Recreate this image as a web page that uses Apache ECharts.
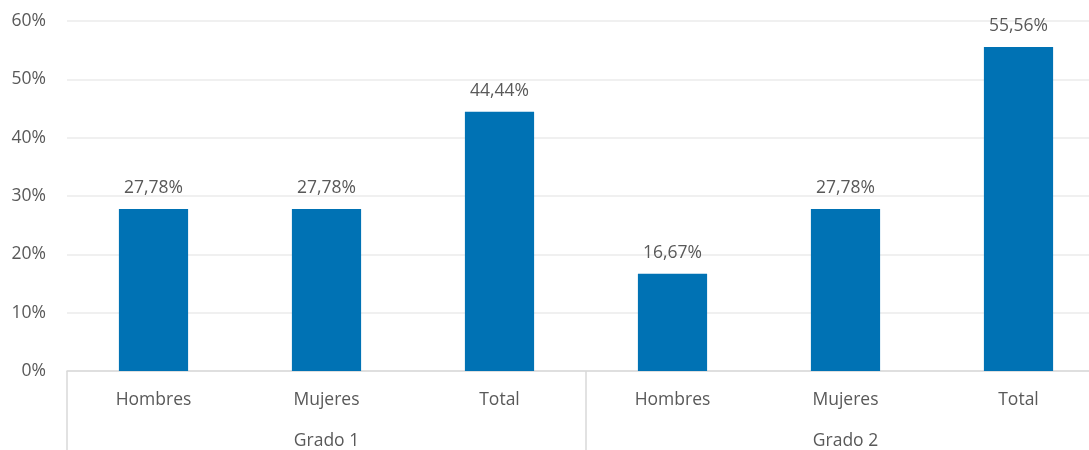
<!DOCTYPE html>
<html><head><meta charset="utf-8">
<script src="https://cdn.jsdelivr.net/npm/echarts@6/dist/echarts.min.js"></script>
<style>html,body{margin:0;padding:0;background:#fff;overflow:hidden}#c{width:1105px;height:450px}</style>
</head><body><div id="c"></div>
<script>
const categories = ['Hombres','Mujeres','Total','Hombres','Mujeres','Total'];
const groups = ['Grado 1','Grado 2'];
const values = [27.78, 27.78, 44.44, 16.67, 27.78, 55.56];
const yTicks = [0, 10, 20, 30, 40, 50, 60];

const font = 'Open Sans, Noto Sans, sans-serif';
const txt = '#595959';
const fs = 17.5;
const chart = echarts.init(document.getElementById('c'));
chart.setOption({
  animation: false,
  grid: {left: 67, right: 0, top: 21, bottom: 78, containLabel: false},
  xAxis: [{
    type: 'category', data: categories, position: 'bottom',
    axisLine: {lineStyle: {color: '#d9d9d9', width: 1.5}},
    axisTick: {show: false},
    axisLabel: {color: txt, fontSize: fs, fontFamily: font, margin: 20}
  }, {
    type: 'category', data: groups, position: 'bottom',
    axisLine: {show: false},
    axisTick: {show: true, length: 80, lineStyle: {color: '#d9d9d9', width: 1.5}},
    axisLabel: {color: txt, fontSize: fs, fontFamily: font, margin: 61}
  }],
  yAxis: {
    type: 'value', min: yTicks[0], max: yTicks[yTicks.length-1], interval: 10,
    axisLine: {show: false}, axisTick: {show: false},
    splitLine: {lineStyle: {color: '#ebebeb', width: 1.5}},
    axisLabel: {color: txt, fontSize: fs, fontFamily: font, margin: 21, formatter: v => v + '%'}
  },
  series: [{
    type: 'bar', data: values, barWidth: '40%', xAxisIndex: 0,
    itemStyle: {color: '#0072b4'},
    label: {show: true, position: 'top', distance: 12, color: txt, fontSize: fs, fontFamily: font,
      formatter: p => p.value.toFixed(2).replace('.', ',') + '%'}
  }]
});
</script></body></html>
